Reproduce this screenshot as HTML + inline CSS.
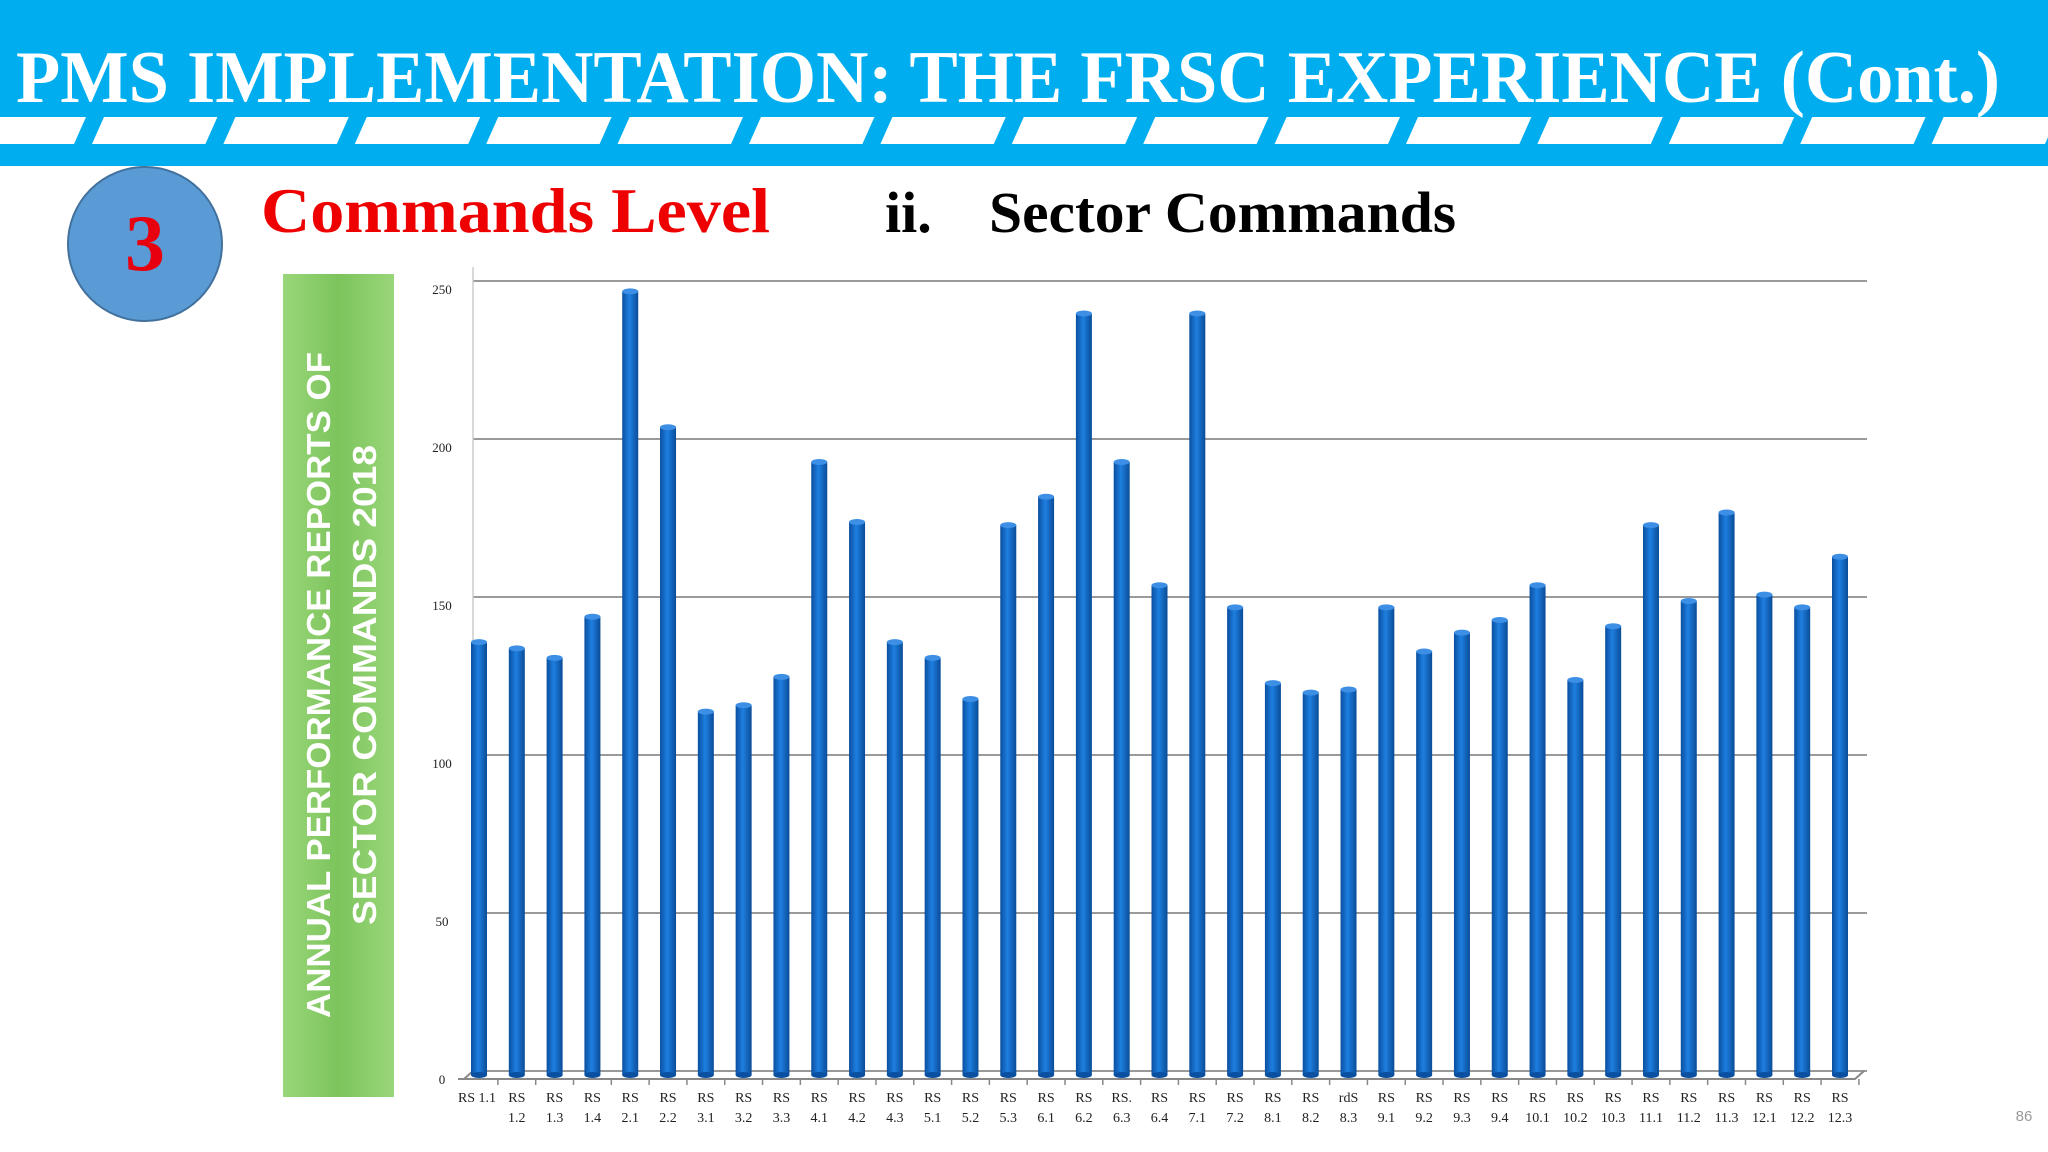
<!DOCTYPE html>
<html><head><meta charset="utf-8"><style>
html,body{margin:0;padding:0;background:#fff;}
svg{display:block;}
</style></head><body>
<svg id="s" width="2048" height="1152" viewBox="0 0 2048 1152" xmlns="http://www.w3.org/2000/svg">
<defs>
<linearGradient id="bar" x1="0" x2="1" y1="0" y2="0">
<stop offset="0" stop-color="#0a4fa0"/><stop offset="0.45" stop-color="#1e7fe0"/><stop offset="1" stop-color="#0a4c98"/>
</linearGradient>
<linearGradient id="grn" x1="0" x2="1">
<stop offset="0" stop-color="#9ad67a"/><stop offset="0.5" stop-color="#7cc45c"/><stop offset="1" stop-color="#9ad67a"/>
</linearGradient>
</defs>
<rect x="0" y="0" width="2048" height="166" fill="#00aeef"/>
<rect x="0" y="117" width="2048" height="27" fill="#fff"/>
<g id="gaps" fill="#00aeef"></g>
<text x="16" y="102" fill="#fff" font-family="Liberation Serif, serif" font-weight="bold" font-size="74" textLength="1984" lengthAdjust="spacingAndGlyphs">PMS IMPLEMENTATION: THE FRSC EXPERIENCE (Cont.)</text>
<circle cx="145" cy="244" r="77" fill="#5b9bd5" stroke="#41719c" stroke-width="2"/>
<text x="145" y="270" text-anchor="middle" fill="#e8000f" font-family="Liberation Serif, serif" font-weight="bold" font-size="80">3</text>
<text x="261" y="232" fill="#ee0000" font-family="Liberation Serif, serif" font-weight="bold" font-size="64" textLength="509" lengthAdjust="spacingAndGlyphs">Commands Level</text>
<text x="885" y="232" fill="#000" font-family="Liberation Serif, serif" font-weight="bold" font-size="58">ii.</text>
<text x="989" y="232" fill="#000" font-family="Liberation Serif, serif" font-weight="bold" font-size="58" textLength="467" lengthAdjust="spacingAndGlyphs">Sector Commands</text>
<rect x="283" y="274" width="111" height="823" fill="url(#grn)"/>
<g transform="rotate(-90)" font-family="Liberation Sans, sans-serif" font-weight="bold" fill="#fff" font-size="33" text-anchor="middle">
<text x="-685" y="330" textLength="666" lengthAdjust="spacingAndGlyphs">ANNUAL PERFORMANCE REPORTS OF</text>
<text x="-685" y="376" textLength="480" lengthAdjust="spacingAndGlyphs">SECTOR COMMANDS 2018</text>
</g>
<g id="chart"></g>
<text x="2024" y="1121" text-anchor="middle" fill="#999" font-family="Liberation Sans, sans-serif" font-size="15">86</text>
</svg>
<script>
const categories = ["RS 1.1","RS 1.2","RS 1.3","RS 1.4","RS 2.1","RS 2.2","RS 3.1","RS 3.2","RS 3.3","RS 4.1","RS 4.2","RS 4.3","RS 5.1","RS 5.2","RS 5.3","RS 6.1","RS 6.2","RS. 6.3","RS 6.4","RS 7.1","RS 7.2","RS 8.1","RS 8.2","rdS 8.3","RS 9.1","RS 9.2","RS 9.3","RS 9.4","RS 10.1","RS 10.2","RS 10.3","RS 11.1","RS 11.2","RS 11.3","RS 12.1","RS 12.2","RS 12.3"];
const values = [137,135,132,145,248,205,115,117,126,194,175,137,132,119,174,183,241,194,155,241,148,124,121,122,148,134,140,144,155,125,142,174,150,178,152,148,164];
const ticks = [0,50,100,150,200,250];
const NS="http://www.w3.org/2000/svg";
function mk(t,a,p){const e=document.createElementNS(NS,t);for(const k in a)e.setAttribute(k,a[k]);p.appendChild(e);return e;}
const gp=document.getElementById('gaps');
for(let i=0;i<16;i++){const x=78+i*131.4;
const g=mk('polygon',{points:`${x-4},144 ${x+14},144 ${x+26},117 ${x+8},117`},gp);

}
const ch=document.getElementById('chart');
const x0=464,x1=1855,dx=9,dy=8;
const y=v=>1079-v*3.16;
const step=(1840-479)/(categories.length-1);
const xc=i=>479+step*i;
ticks.forEach(t=>{
 const l=mk('line',{x1:x0+dx,x2:1867,y1:y(t)-dy,y2:y(t)-dy,stroke:t===0?'#999':'#9a9a9a','stroke-width':2},ch);
 
 
 const tx=mk('text',{x:x0-22,y:y(t)+5,'text-anchor':'middle','font-family':'Liberation Serif, serif','font-size':13,fill:'#222'},ch);
 tx.textContent=t;
 
 
});
const wall=mk('line',{x1:x0+dx,x2:x0+dx,y1:y(0)-dy,y2:y(250)-dy-14,stroke:'#ccc','stroke-width':1.5},ch);


const ax=mk('path',{d:`M${x0} ${y(0)} L${x0-6} ${y(0)} M${x0} ${y(0)} L${x1} ${y(0)} L${x1+dx} ${y(0)-dy} M${x0} ${y(0)} L${x0+dx} ${y(0)-dy}`,stroke:'#888','stroke-width':2,fill:'none'},ch);


values.forEach((v,i)=>{
 const cx=xc(i),w=16,top=y(v)-4,bot=y(0)-4;
 const b=mk('rect',{x:cx-w/2,y:top,width:w,height:bot-top,fill:'url(#bar)'},ch);
 
 
 const e=mk('ellipse',{cx:cx,cy:top,rx:w/2,ry:3,fill:'#3d8fe6'},ch);
 
 
 const e2=mk('ellipse',{cx:cx,cy:bot,rx:w/2,ry:3,fill:'#0a4fa0'},ch);
 
 
 const tk=mk('line',{x1:cx+step/2,x2:cx+step/2,y1:y(0),y2:y(0)+6,stroke:'#888','stroke-width':1.5},ch);
 
 
 const parts=categories[i].split(' ');
 const t=mk('text',{'text-anchor':'middle','font-family':'Liberation Serif, serif','font-size':14,fill:'#222'},ch);
 
 
 if(i===0){mk('tspan',{x:cx-2,y:1102},t).textContent=categories[i];}
 else{mk('tspan',{x:cx,y:1102},t).textContent=parts[0];mk('tspan',{x:cx,y:1122},t).textContent=parts[1];}
});
</script>
</body></html>
